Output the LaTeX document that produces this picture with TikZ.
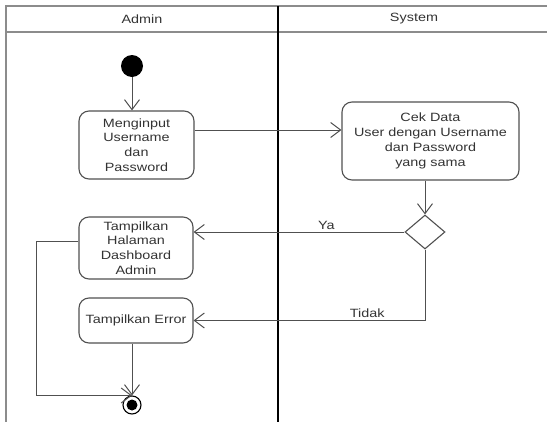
\documentclass[tikz,border=0pt]{standalone}
\usepackage{fontspec}
\setmainfont{Liberation Sans}[FakeStretch=1.2]
\usetikzlibrary{arrows.meta}
\usetikzlibrary{shapes.geometric}
\definecolor{lanegray}{HTML}{8C8C8C}
\definecolor{boxgray}{HTML}{505050}
\definecolor{txtgray}{HTML}{333333}
\tikzset{
        lane/.style={draw=lanegray, line width=1.4pt},
        activity/.style={draw=boxgray, line width=1.1pt, rounded corners=10pt, align=center,
                text=txtgray, inner sep=0pt, font=\fontsize{12}{14.8}\selectfont},
        decision/.style={diamond, draw=boxgray, line width=1.1pt, inner sep=0pt,
                minimum width=40pt, minimum height=34pt},
        flow/.style={draw=boxgray, line width=1pt, -{Straight Barb[length=10pt,width=15pt]}},
        guard/.style={text=txtgray, font=\fontsize{12}{14.8}\selectfont}
}

\begin{document}
\begin{tikzpicture}[x=1pt,y=-1pt]
        \clip (0,0) rectangle (547,421);
        \draw[lane] (6,430) -- (6,6) -- (560,6);
        \draw[lane] (6,32) -- (560,32);
        \draw[line width=2pt] (278,6) -- (278,430);
        \node[guard] (hadmin) at (142,19) {Admin};
        \node[guard] (hsystem) at (414,19) {System};

        \node[circle, fill=black, minimum size=22pt, inner sep=0pt] (start) at (132,66) {};
        \node[activity, minimum width=115pt, minimum height=68pt] (input) at (136.5,145)
                {Menginput\\Username\\dan\\Password};
        \node[activity, minimum width=177pt, minimum height=78pt] (cek) at (430.5,141)
                {Cek Data\\User dengan Username\\dan Password\\yang sama};
        \node[decision] (dec) at (425,232) {};
        \node[activity, minimum width=114pt, minimum height=62pt] (dash) at (136,248)
                {Tampilkan\\Halaman\\Dashboard\\Admin};
        \node[activity, minimum width=114pt, minimum height=45pt] (err) at (136,320.5)
                {Tampilkan Error};
        \node[circle, draw=black, line width=1.1pt, minimum size=18pt, inner sep=0pt] (stop) at (132,405) {};
        \fill (stop) circle (5.5);

        \draw[flow] (start) -- (start |- input.north);
        \draw[flow] ([yshift=15pt]input.east) -- ([yshift=15pt]input.east -| cek.west);
        \draw[flow] (cek.south -| dec.north) -- (dec.north);
        \draw[flow] (dec.west) -- (dec.west -| dash.east) node[guard, pos=0.37, above=-1pt] (ya) {Ya};
        \draw[flow] (dec.south) |- (err.east) node[guard, pos=0.625, above=-1pt] (tidak) {Tidak};
        \draw[flow] ([yshift=7pt]dash.west) -- ++(-42,0) |- (stop.north);
        \draw[flow] (err.south -| stop.north) -- (stop.north);
\end{tikzpicture}
\end{document}
